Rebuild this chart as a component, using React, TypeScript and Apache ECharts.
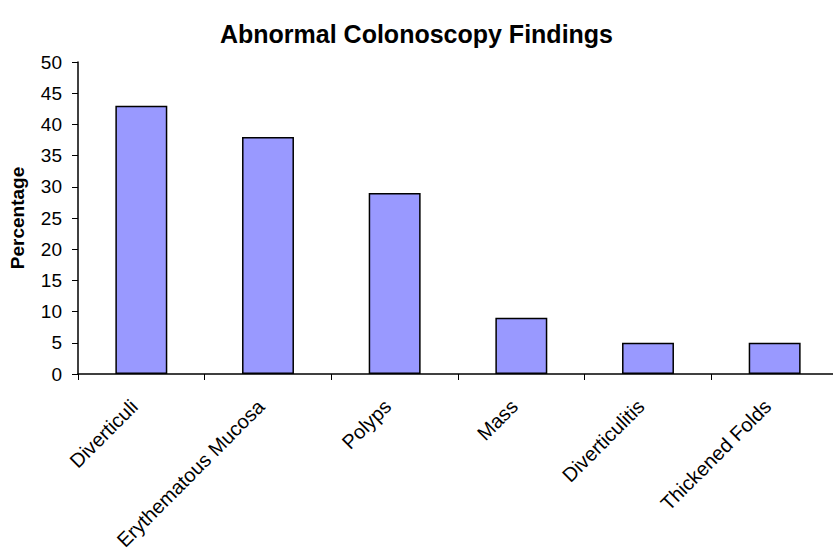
import React, { useEffect, useRef } from "react";
import * as echarts from "echarts";

const categories = [
  "Diverticuli",
  "Erythematous Mucosa",
  "Polyps",
  "Mass",
  "Diverticulitis",
  "Thickened Folds",
];
const percentages = [43, 38, 29, 9, 5, 5];
const yMin = 0;
const yMax = 50;
const yStep = 5;

const FONT = "'Liberation Sans', Arial, Helvetica, sans-serif";

export default function App() {
  const ref = useRef<HTMLDivElement>(null);

  useEffect(() => {
    if (!ref.current) return;
    const chart = echarts.init(ref.current, undefined, { renderer: "svg" });
    chart.setOption({
      animation: false,
      backgroundColor: "#ffffff",
      title: {
        text: "Abnormal Colonoscopy Findings",
        left: "center",
        top: 16,
        textStyle: {
          fontFamily: FONT,
          fontWeight: "bold",
          fontSize: 25,
          color: "#000000",
        },
      },
      grid: {
        left: 78,
        top: 62,
        bottom: 176,
        right: -5,
        containLabel: false,
        outerBoundsMode: "none",
      },
      xAxis: {
        type: "category",
        data: categories,
        axisLine: { show: true, lineStyle: { color: "#000000", width: 1.5 } },
        axisTick: {
          show: true,
          alignWithLabel: false,
          length: 6,
          lineStyle: { color: "#000000", width: 1 },
        },
        axisLabel: {
          rotate: 45,
          interval: 0,
          margin: 22,
          padding: [0, 10, 0, 0],
          fontFamily: FONT,
          fontSize: 20,
          color: "#000000",
        },
        splitLine: { show: false },
      },
      yAxis: {
        type: "value",
        min: yMin,
        max: yMax,
        interval: yStep,
        name: "Percentage",
        nameLocation: "middle",
        nameGap: 51,
        nameTextStyle: {
          fontFamily: FONT,
          fontWeight: "bold",
          fontSize: 19,
          color: "#000000",
        },
        axisLine: { show: true, lineStyle: { color: "#000000", width: 1.5 } },
        axisTick: { show: true, length: 6, lineStyle: { color: "#000000", width: 1 } },
        axisLabel: {
          margin: 16,
          fontFamily: FONT,
          fontSize: 19,
          color: "#000000",
        },
        splitLine: { show: false },
      },
      series: [
        {
          type: "bar",
          data: percentages,
          barWidth: "41%",
          itemStyle: {
            color: "#9999FF",
            borderColor: "#000000",
            borderWidth: 1.5,
          },
        },
      ],
    });
    return () => chart.dispose();
  }, []);

  return <div ref={ref} style={{ width: 833, height: 550, position: "absolute", left: 0, top: 0 }} />;
}
